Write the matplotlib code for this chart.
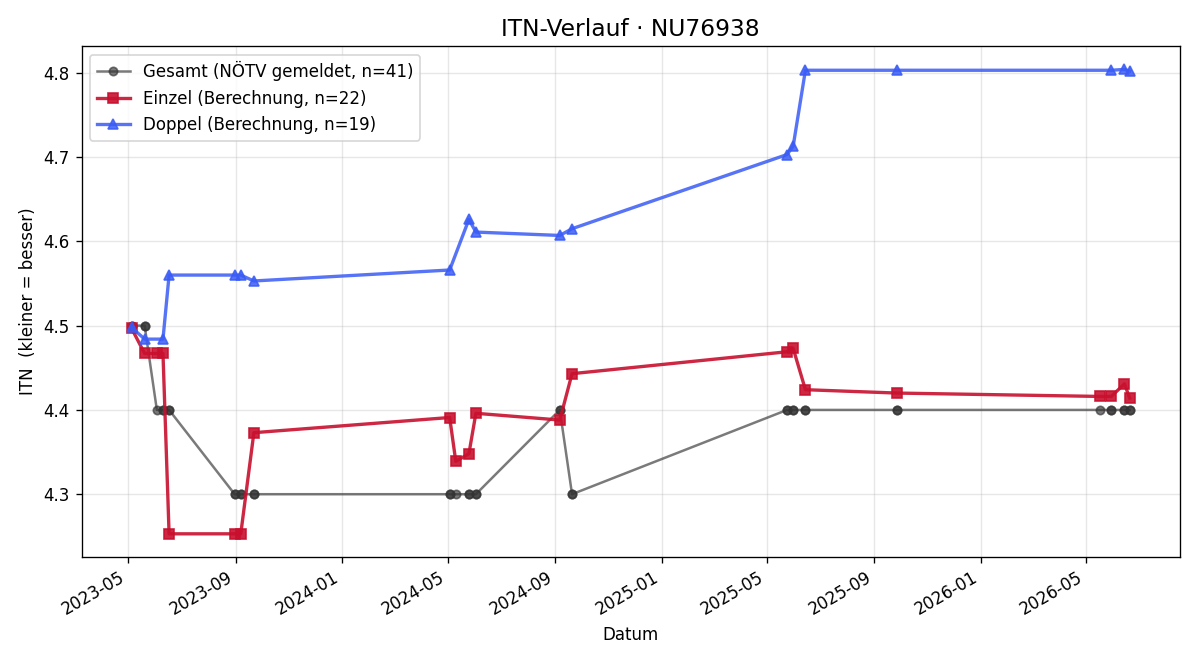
import matplotlib
matplotlib.use("Agg")
import matplotlib.pyplot as plt
import matplotlib.dates as mdates
import pandas as pd

# Einzel (singles) – computed ITN
einzel_dates = ["2023-05-05", "2023-05-20", "2023-06-03", "2023-06-10", "2023-06-17",
                "2023-08-31", "2023-09-07", "2023-09-22", "2024-05-03", "2024-05-10",
                "2024-05-25", "2024-06-02", "2024-09-06", "2024-09-20", "2025-05-24",
                "2025-05-31", "2025-06-14", "2025-09-27", "2026-05-17", "2026-05-30",
                "2026-06-14", "2026-06-20"]
einzel_itn = [4.497, 4.467, 4.467, 4.467, 4.253,
              4.253, 4.253, 4.373, 4.391, 4.339,
              4.348, 4.396, 4.388, 4.443, 4.469,
              4.473, 4.424, 4.420, 4.416, 4.416,
              4.431, 4.414]

# Doppel (doubles) – computed ITN
doppel_dates = ["2023-05-05", "2023-05-20", "2023-06-10", "2023-06-17", "2023-08-31",
                "2023-09-07", "2023-09-22", "2024-05-03", "2024-05-25", "2024-06-02",
                "2024-09-06", "2024-09-20", "2025-05-24", "2025-05-31", "2025-06-14",
                "2025-09-27", "2026-05-30", "2026-06-14", "2026-06-20"]
doppel_itn = [4.498, 4.484, 4.484, 4.560, 4.560,
              4.560, 4.553, 4.566, 4.626, 4.611,
              4.607, 4.615, 4.703, 4.713, 4.803,
              4.803, 4.803, 4.804, 4.802]

# Gesamt (reported by NÖTV) – one entry per match
gesamt_dates = ["2023-05-05", "2023-05-05", "2023-05-20", "2023-05-20", "2023-06-03",
                "2023-06-10", "2023-06-10", "2023-06-17", "2023-06-17", "2023-08-31",
                "2023-08-31", "2023-09-07", "2023-09-07", "2023-09-22", "2023-09-22",
                "2024-05-03", "2024-05-03", "2024-05-10", "2024-05-25", "2024-05-25",
                "2024-06-02", "2024-06-02", "2024-09-06", "2024-09-06", "2024-09-20",
                "2024-09-20", "2025-05-24", "2025-05-24", "2025-05-31", "2025-05-31",
                "2025-06-14", "2025-06-14", "2025-09-27", "2025-09-27", "2026-05-17",
                "2026-05-30", "2026-05-30", "2026-06-14", "2026-06-14", "2026-06-20",
                "2026-06-20"]
gesamt_itn = [4.5, 4.5, 4.5, 4.5, 4.4,
              4.4, 4.4, 4.4, 4.4, 4.3,
              4.3, 4.3, 4.3, 4.3, 4.3,
              4.3, 4.3, 4.3, 4.3, 4.3,
              4.3, 4.3, 4.4, 4.4, 4.3,
              4.3, 4.4, 4.4, 4.4, 4.4,
              4.4, 4.4, 4.4, 4.4, 4.4,
              4.4, 4.4, 4.4, 4.4, 4.4,
              4.4]

fig, ax = plt.subplots(figsize=(10, 5.5), dpi=120)

ax.plot(pd.to_datetime(gesamt_dates), gesamt_itn, marker='o', markersize=5, linewidth=1.5,
        color='#333333', alpha=0.65, label=f'Gesamt (NÖTV gemeldet, n={len(gesamt_itn)})')
ax.plot(pd.to_datetime(einzel_dates), einzel_itn, marker='s', markersize=6, linewidth=2,
        color='#c8102e', alpha=0.9, label=f'Einzel (Berechnung, n={len(einzel_itn)})')
ax.plot(pd.to_datetime(doppel_dates), doppel_itn, marker='^', markersize=6, linewidth=2,
        color='#3a5cf5', alpha=0.85, label=f'Doppel (Berechnung, n={len(doppel_itn)})')

ax.set_title('ITN-Verlauf · NU76938', fontsize=14)
ax.set_xlabel('Datum')
ax.set_ylabel('ITN  (kleiner = besser)')
ax.grid(True, alpha=0.3)
ax.legend(loc='upper left')

ax.xaxis.set_major_locator(mdates.MonthLocator(bymonth=[1, 5, 9]))
ax.xaxis.set_major_formatter(mdates.DateFormatter('%Y-%m'))
fig.autofmt_xdate()

fig.subplots_adjust(left=0.068, right=0.983, top=0.930, bottom=0.156)
fig.savefig('out.png')
